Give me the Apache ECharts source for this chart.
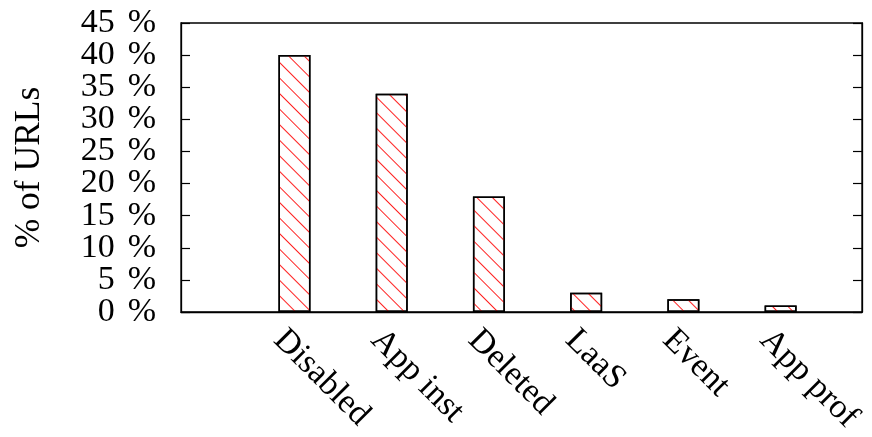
<!DOCTYPE html>
<html>
<head>
<meta charset="utf-8">
<script src="https://cdn.jsdelivr.net/npm/echarts@6/dist/echarts.min.js"></script>
<style>
  html, body { margin: 0; padding: 0; background: #ffffff; }
  #chart { width: 872px; height: 437px; }
</style>
</head>
<body>
<div id="chart"></div>
<script>
// Share of URLs per reason
const categories = ['Disabled', 'App inst', 'Deleted', 'LaaS', 'Event', 'App prof'];
const urlShare = [40, 34, 18, 3, 2, 1];
const yTickValues = [0, 5, 10, 15, 20, 25, 30, 35, 40, 45];
const yMin = 0;
const yMax = 45;
const yStep = 5;

const FONT = '"Liberation Serif", "DejaVu Serif", serif';
const labelShift = -0.16;   // rotated labels start a little left of each bar

const chart = echarts.init(document.getElementById('chart'), null, { renderer: 'canvas' });

// Tick labels are split over two stacked left axes (even / odd steps) so the
// tall serif labels are all kept instead of being thinned out.
const evenTicks = yTickValues.filter((v, i) => i % 2 === 0);
const oddTicks = yTickValues.filter((v, i) => i % 2 === 1);

const tickLabelStyle = {
  formatter: v => '{n|' + v + '}{p|%}',
  margin: 25,
  showMinLabel: true,
  showMaxLabel: true,
  fontFamily: FONT,
  fontSize: 34,
  color: '#000',
  rich: {
    n: { fontFamily: FONT, fontSize: 34, color: '#000' },
    p: { fontFamily: FONT, fontSize: 34, color: '#000', padding: [0, 0, 0, 13] }
  }
};

const yAxisCommon = {
  type: 'value',
  min: yMin,
  max: yMax,
  interval: yStep,
  splitLine: { show: false },
  axisLine: { show: true, onZero: false, lineStyle: { color: '#000', width: 1.3 } },
  axisTick: { show: true, inside: true, length: 9, lineStyle: { color: '#000', width: 1.2 } }
};

chart.setOption({
  animation: false,
  backgroundColor: '#ffffff',
  grid: {
    left: 181, right: 10, top: 23, bottom: 125,
    show: true, borderColor: '#000', borderWidth: 1.3, backgroundColor: 'transparent'
  },
  xAxis: {
    type: 'value',
    min: -1.167,
    max: 5.837,
    splitLine: { show: false },
    axisLine: { show: true, onZero: false, lineStyle: { color: '#000', width: 1.3 } },
    axisTick: { show: false },
    axisLabel: {
      customValues: categories.map((c, i) => i + labelShift),
      formatter: v => categories[Math.round(v - labelShift)] || '',
      rotate: -45,
      margin: 23,
      fontFamily: FONT,
      fontSize: 34,
      color: '#000'
    }
  },
  yAxis: [
    Object.assign({}, yAxisCommon, {
      position: 'left',
      name: '% of URLs',
      nameLocation: 'middle',
      nameGap: 133,
      nameTextStyle: { fontFamily: FONT, fontSize: 35.5, color: '#000' },
      axisTick: Object.assign({}, yAxisCommon.axisTick, { customValues: yTickValues }),
      axisLabel: Object.assign({}, tickLabelStyle, { customValues: evenTicks })
    }),
    Object.assign({}, yAxisCommon, {
      position: 'left',
      offset: 0,
      axisLine: { show: false },
      axisTick: { show: false },
      axisLabel: Object.assign({}, tickLabelStyle, { customValues: oddTicks })
    }),
    Object.assign({}, yAxisCommon, {
      position: 'right',
      axisLabel: { show: false }
    })
  ],
  series: [{
    type: 'bar',
    yAxisIndex: 0,
    barWidth: 32,
    data: urlShare.map((v, i) => [i, v]),
    itemStyle: {
      color: '#ffffff',
      borderColor: '#000',
      borderWidth: 1.5,
      // red "\" hatching
      decal: {
        symbol: 'rect',
        symbolSize: 1,
        color: '#ff2020',
        backgroundColor: 'transparent',
        dashArrayX: [1, 0],
        dashArrayY: [1, 9.8],
        rotation: Math.PI / 4
      }
    }
  }]
});
</script>
</body>
</html>
